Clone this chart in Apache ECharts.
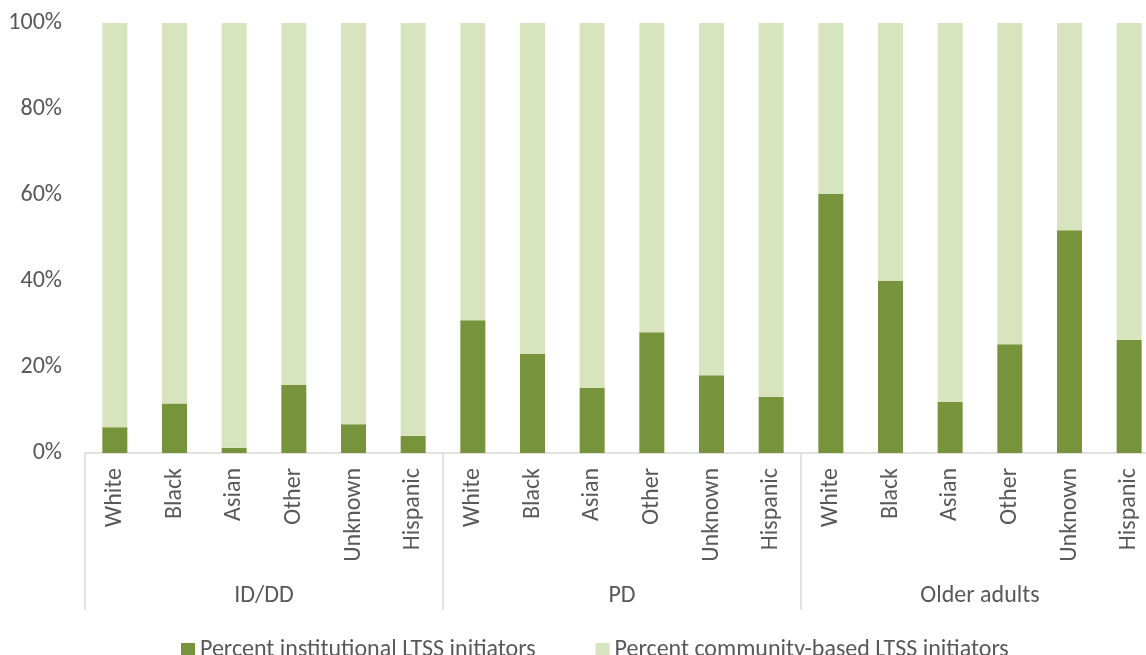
<!DOCTYPE html>
<html>
<head>
<meta charset="utf-8">
<script src="https://cdn.jsdelivr.net/npm/echarts@6/dist/echarts.min.js"></script>
<style>html,body{margin:0;padding:0;background:#fff}#c{width:1146px;height:655px}</style>
</head>
<body>
<div id="c"></div>
<script>
const groups = ['ID/DD', 'PD', 'Older adults'];
const races = ['White', 'Black', 'Asian', 'Other', 'Unknown', 'Hispanic'];
const institutional = [6, 11.5, 1.2, 15.8, 6.7, 4.0,
                       30.9, 23.0, 15.1, 28.1, 18.1, 13.0,
                       60.3, 40.0, 11.9, 25.3, 51.8, 26.3];
const seriesNames = ['Percent institutional LTSS initiators', 'Percent community-based LTSS initiators'];
const yTicks = [0, 20, 40, 60, 80, 100];

const categories = [];
groups.forEach(g => races.forEach(r => categories.push(r)));
const community = institutional.map(v => +(100 - v).toFixed(1));

const FONT = 'Carlito, Lato, sans-serif';
const TXT = '#595959';
const chart = echarts.init(document.getElementById('c'));
chart.setOption({
  animation: false,
  textStyle: { fontFamily: FONT },
  grid: { left: 85, top: 23, right: -13, height: 430, outerBoundsMode: 'none', containLabel: false },
  legend: {
    left: 176, top: 633,
    itemWidth: 14, itemHeight: 14, itemGap: 60,
    icon: 'rect',
    textStyle: { fontSize: 24, color: TXT, fontFamily: FONT },
    data: seriesNames
  },
  xAxis: [
    {
      type: 'category', data: categories, position: 'bottom',
      axisLine: { show: true, lineStyle: { color: '#d9d9d9', width: 1.5 } },
      axisTick: { show: false },
      axisLabel: { rotate: 90, margin: 15, fontSize: 24, color: TXT, fontFamily: FONT, interval: 0 }
    },
    {
      type: 'category', data: groups, position: 'bottom',
      axisLine: { show: false },
      axisTick: { show: true, length: 157, inside: false, lineStyle: { color: '#d9d9d9', width: 1.5 } },
      axisLabel: { margin: 131, fontSize: 24, color: TXT, fontFamily: FONT, interval: 0 }
    }
  ],
  yAxis: {
    type: 'value', min: 0, max: 100, interval: 20,
    axisLine: { show: false }, axisTick: { show: false },
    splitLine: { show: false },
    axisLabel: { margin: 23, fontSize: 24, color: TXT, fontFamily: FONT,
      formatter: v => yTicks.includes(v) ? v + '%' : '' }
  },
  series: [
    { name: seriesNames[0], type: 'bar', stack: 's', xAxisIndex: 0, data: institutional,
      barWidth: 25, itemStyle: { color: '#77933C' } },
    { name: seriesNames[1], type: 'bar', stack: 's', xAxisIndex: 0, data: community,
      barWidth: 25, itemStyle: { color: '#D7E4BD' } }
  ]
});
</script>
</body>
</html>
